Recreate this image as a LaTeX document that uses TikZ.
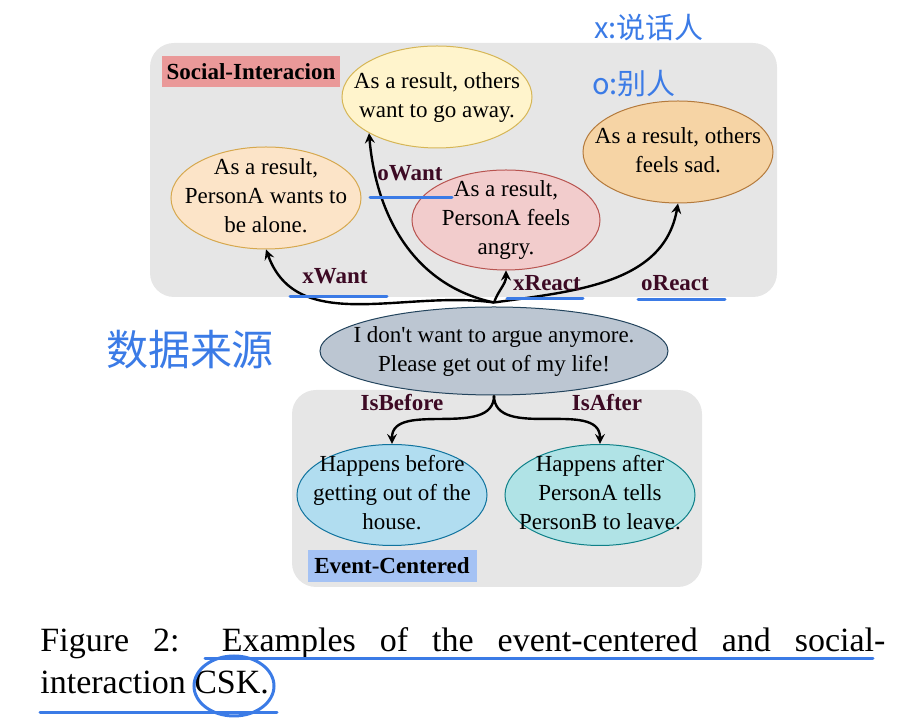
\documentclass[tikz,border=0pt]{standalone}
\usepackage{fontspec}
\setmainfont{Liberation Serif}
\newfontfamily\cjk{Noto Sans CJK SC}
\usetikzlibrary{arrows,shapes.geometric}
\definecolor{panelgray}{HTML}{E6E6E6}
\definecolor{relred}{HTML}{3D0A24}
\definecolor{penblue}{HTML}{3B7BE6}
\definecolor{socialpink}{HTML}{EA9999}
\definecolor{eventblue}{HTML}{A4C2F4}
\definecolor{owfill}{HTML}{FFF4CC}
\definecolor{owdraw}{HTML}{D6B656}
\definecolor{xwfill}{HTML}{FCE4C8}
\definecolor{xwdraw}{HTML}{D6A84E}
\definecolor{xrfill}{HTML}{F2CCCC}
\definecolor{xrdraw}{HTML}{B85450}
\definecolor{orfill}{HTML}{F6D4A5}
\definecolor{ordraw}{HTML}{B47A3C}
\definecolor{cfill}{HTML}{BCC6D2}
\definecolor{cdraw}{HTML}{23445D}
\definecolor{bbfill}{HTML}{B1DDF0}
\definecolor{bbdraw}{HTML}{10739E}
\definecolor{bafill}{HTML}{B0E3E6}
\definecolor{badraw}{HTML}{0E8088}
\newcommand\ectext[1]{\raisebox{-0.25em}[0pt][0pt]{\makebox[0pt]{\begin{tabular}{@{}c@{}}#1\end{tabular}}}}

\begin{document}
\begin{tikzpicture}[x=0.5pt,y=-0.5pt,
  ev/.style={ellipse,draw,line width=0.5pt,inner sep=0pt,minimum width=95pt,minimum height=51pt,
    font=\fontsize{11.5}{14.5}\selectfont},
  rel/.style={font=\bfseries\fontsize{11.5}{14}\selectfont,text=relred,inner sep=0pt},
  tag/.style={font=\bfseries\fontsize{11.5}{14}\selectfont,inner sep=0pt},
  arr/.style={->,>=stealth,line width=1.2pt},
  pen/.style={draw=penblue,line width=1.5pt,line cap=round},
  hand/.style={text=penblue,inner sep=0pt}]
\useasboundingbox (0,0) rectangle (907,726);

% panels
\fill[panelgray,rounded corners=12pt] (150,43) rectangle (777,297);
\fill[panelgray,rounded corners=12pt] (292,390) rectangle (702,587);
\node[tag,fill=socialpink,minimum width=89pt,minimum height=15.5pt] (si) at (251,72) {Social-Interacion};
\node[tag,fill=eventblue,minimum width=84.5pt,minimum height=16pt] (ec) at (392,566) {Event-Centered};

% events
\node[ev,fill=owfill,draw=owdraw] (ow) at (437,97) {\ectext{As a result, others\\want to go away.}};
\node[ev,fill=xwfill,draw=xwdraw] (xw) at (266,198) {\ectext{As a result,\\PersonA wants to\\be alone.}};
\node[ev,fill=xrfill,draw=xrdraw,minimum width=94pt,minimum height=50pt] (xr) at (506,220) {\ectext{As a result,\\PersonA feels\\angry.}};
\node[ev,fill=orfill,draw=ordraw] (or) at (678,152) {\ectext{As a result, others\\feels sad.}};
\node[ev,fill=cfill,draw=cdraw,minimum width=174pt,minimum height=44pt] (c) at (494,351) {\ectext{I don\textquotesingle t want to argue anymore.\\Please get out of my life!}};
\node[ev,fill=bbfill,draw=bbdraw,minimum height=50.5pt] (b1) at (392,495) {\ectext{Happens before\\getting out of the\\house.}};
\node[ev,fill=bafill,draw=badraw,minimum height=50.5pt] (b2) at (600,495) {\ectext{Happens after\\PersonA tells\\PersonB to leave.}};

% relations
\coordinate (s) at ([yshift=2pt]c.north);
\draw[arr] (s) to[out=172,in=-70] (xw.south);
\draw[arr] (s) to[out=168,in=-85] (ow.208);
\draw[arr] (s) to[out=70,in=-90] (xr.south);
\draw[arr] (s) to[out=8,in=-100] (or.south);
\draw[arr] (c.south) to[out=-90,in=90] (b1.north);
\draw[arr] (c.south) to[out=-90,in=90] (b2.north);
\node[rel] (lxw) at (335,276) {xWant};
\node[rel] (low) at (410,173) {oWant};
\node[rel] (lxr) at (547,283) {xReact};
\node[rel] (lor) at (675,283) {oReact};
\node[rel] (lib) at (402,403) {IsBefore};
\node[rel] (lia) at (607,403) {IsAfter};

% caption
\node[anchor=north west,inner sep=0pt,text width=422.5pt,align=justify,font=\fontsize{17}{21}\selectfont] (cap) at (40,627)
  {Figure 2: Examples of the event-centered and social-\linebreak interaction CSK.};

% pen notes
\node[hand,font=\cjk\fontsize{14.5}{16}\selectfont] (n1) at (649,28) {x:说话人};
\node[hand,font=\cjk\fontsize{14.5}{16}\selectfont] (n2) at (634,84) {o:别人};
\node[hand,font=\cjk\fontsize{21}{24}\selectfont] (n3) at (190,350) {数据来源};
\draw[pen] (290,297) -- (387,297);
\draw[pen] (370,198) -- (452,198);
\draw[pen] (507,299) -- (583,299);
\draw[pen] (638,300) -- (725,300);
\draw[pen] (205,659) -- (873,659);
\draw[pen] (40,713) -- (277,713);
\draw[pen] (234,686) ellipse (20pt and 15pt);
\end{tikzpicture}
\end{document}
